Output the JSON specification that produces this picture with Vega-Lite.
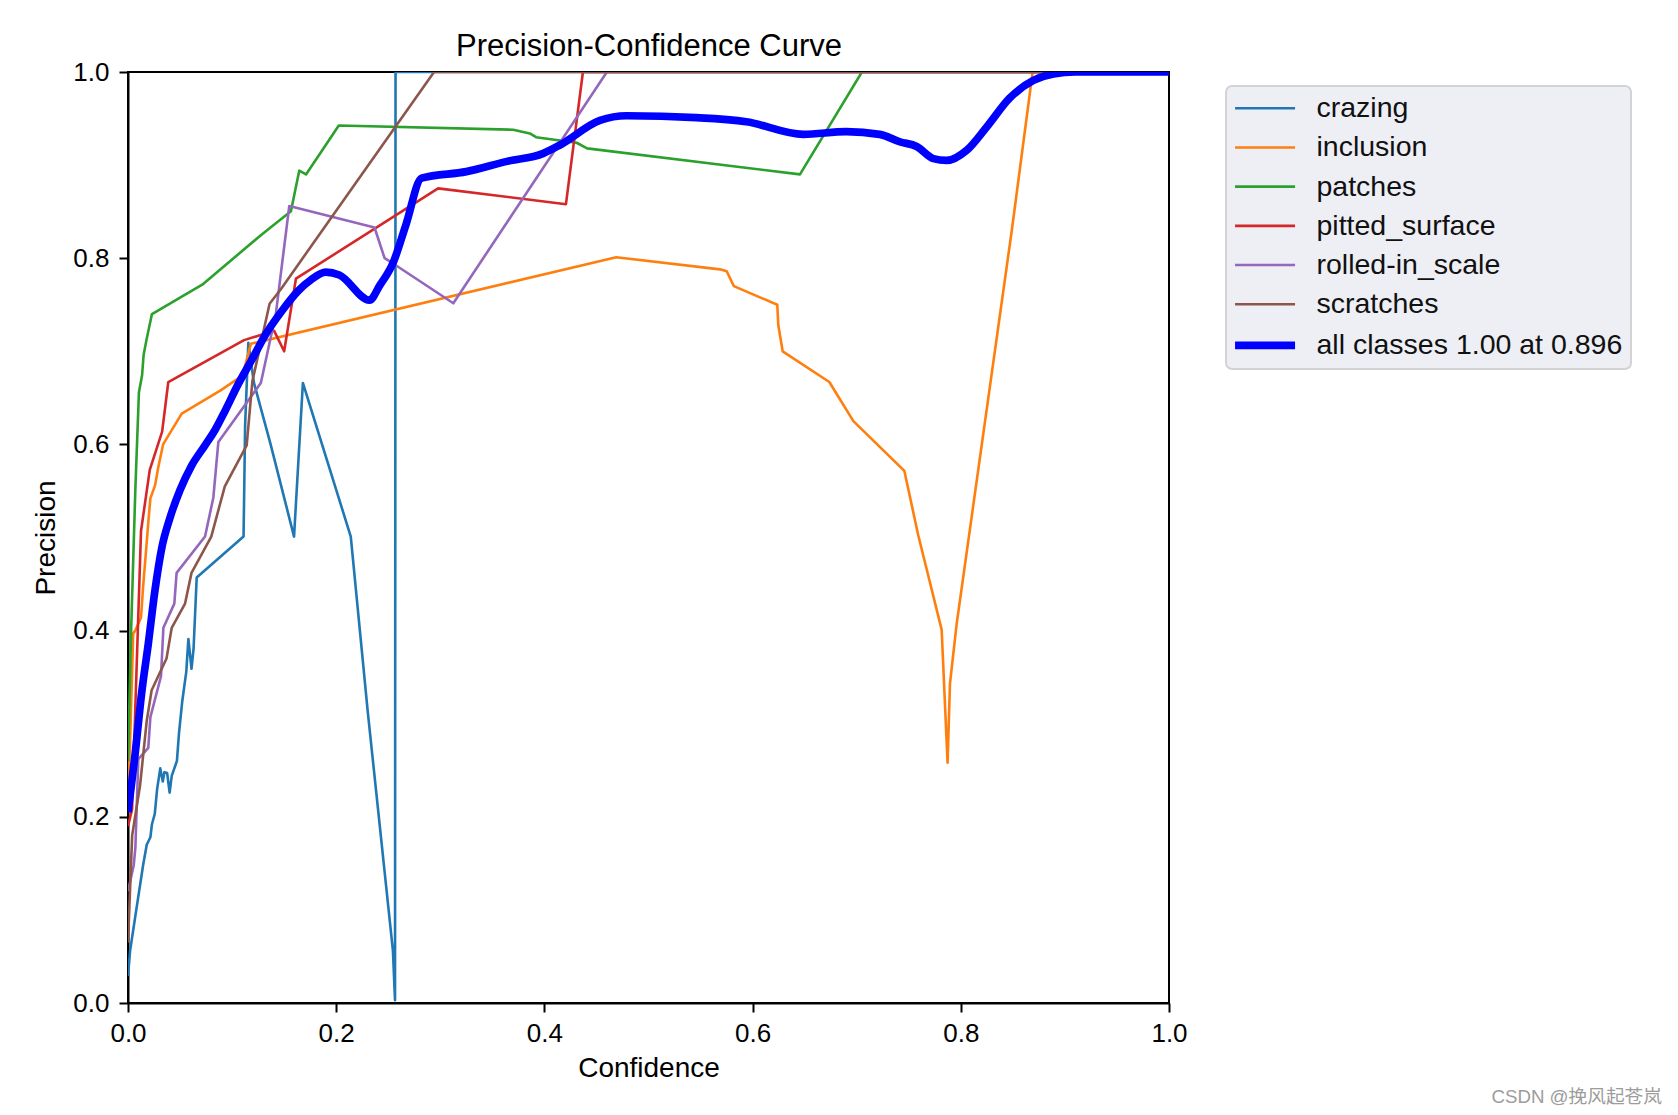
{
  "$schema": "https://vega.github.io/schema/vega-lite/v6.json",
  "description": "Precision-Confidence Curve",
  "width": 1041,
  "height": 931,
  "autosize": {"type": "none"},
  "padding": {"left": 128, "top": 72, "right": 509, "bottom": 112},
  "background": "white",
  "title": {
    "text": "CSDN @挽风起苍岚",
    "orient": "bottom",
    "anchor": "end",
    "frame": "bounds",
    "font": "Liberation Sans, Noto Sans CJK SC",
    "fontSize": 18.7,
    "fontWeight": "normal",
    "color": "#9c9c9c",
    "offset": 6,
    "dx": 30
  },
  "config": {
    "font": "Liberation Sans",
    "view": {"stroke": "black", "strokeWidth": 2},
    "axis": {
      "grid": false,
      "domainColor": "black",
      "domainWidth": 2,
      "tickColor": "black",
      "tickWidth": 2,
      "tickSize": 9,
      "labelFont": "Liberation Sans",
      "labelFontSize": 26,
      "labelColor": "black",
      "labelFlush": false,
      "labelOverlap": false,
      "labelPadding": 8,
      "titleFont": "Liberation Sans",
      "titleFontSize": 28,
      "titleFontWeight": "normal",
      "titleColor": "black"
    },
    "legend": {
      "fillColor": "#eeeef5",
      "strokeColor": "#d3d3d6",
      "strokeWidth": 2,
      "cornerRadius": 6,
      "padding": 8,
      "labelFont": "Liberation Sans",
      "labelFontSize": 28.5,
      "labelColor": "#111111",
      "labelLimit": 500,
      "symbolType": "M-1.65,0H5.85",
      "symbolSize": 256,
      "symbolStrokeWidth": 2.6,
      "labelOffset": 54,
      "rowPadding": 10.2
    }
  },
  "data": {
    "values": [
      {"series": "crazing", "conf": 0.0, "prec": 0.029},
      {"series": "crazing", "conf": 0.002, "prec": 0.056},
      {"series": "crazing", "conf": 0.007, "prec": 0.093},
      {"series": "crazing", "conf": 0.0145, "prec": 0.148},
      {"series": "crazing", "conf": 0.018, "prec": 0.17},
      {"series": "crazing", "conf": 0.0215, "prec": 0.178},
      {"series": "crazing", "conf": 0.023, "prec": 0.192},
      {"series": "crazing", "conf": 0.0257, "prec": 0.203},
      {"series": "crazing", "conf": 0.028, "prec": 0.23},
      {"series": "crazing", "conf": 0.031, "prec": 0.252},
      {"series": "crazing", "conf": 0.0334, "prec": 0.238},
      {"series": "crazing", "conf": 0.035, "prec": 0.248},
      {"series": "crazing", "conf": 0.0376, "prec": 0.247},
      {"series": "crazing", "conf": 0.04, "prec": 0.226},
      {"series": "crazing", "conf": 0.042, "prec": 0.244},
      {"series": "crazing", "conf": 0.047, "prec": 0.26},
      {"series": "crazing", "conf": 0.049, "prec": 0.29},
      {"series": "crazing", "conf": 0.052, "prec": 0.323},
      {"series": "crazing", "conf": 0.056, "prec": 0.356},
      {"series": "crazing", "conf": 0.058, "prec": 0.391},
      {"series": "crazing", "conf": 0.061, "prec": 0.359},
      {"series": "crazing", "conf": 0.063, "prec": 0.381},
      {"series": "crazing", "conf": 0.066, "prec": 0.457},
      {"series": "crazing", "conf": 0.111, "prec": 0.501},
      {"series": "crazing", "conf": 0.1125, "prec": 0.62},
      {"series": "crazing", "conf": 0.1156, "prec": 0.709},
      {"series": "crazing", "conf": 0.121, "prec": 0.666},
      {"series": "crazing", "conf": 0.137, "prec": 0.6},
      {"series": "crazing", "conf": 0.1595, "prec": 0.501},
      {"series": "crazing", "conf": 0.168, "prec": 0.666},
      {"series": "crazing", "conf": 0.214, "prec": 0.501},
      {"series": "crazing", "conf": 0.2304, "prec": 0.312},
      {"series": "crazing", "conf": 0.2545, "prec": 0.056},
      {"series": "crazing", "conf": 0.2565, "prec": 0.003},
      {"series": "crazing", "conf": 0.257, "prec": 1.0},
      {"series": "crazing", "conf": 1.0, "prec": 1.0},

      {"series": "inclusion", "conf": 0.0, "prec": 0.22},
      {"series": "inclusion", "conf": 0.002, "prec": 0.28},
      {"series": "inclusion", "conf": 0.005, "prec": 0.397},
      {"series": "inclusion", "conf": 0.007, "prec": 0.4},
      {"series": "inclusion", "conf": 0.0125, "prec": 0.414},
      {"series": "inclusion", "conf": 0.0145, "prec": 0.447},
      {"series": "inclusion", "conf": 0.0167, "prec": 0.477},
      {"series": "inclusion", "conf": 0.02, "prec": 0.523},
      {"series": "inclusion", "conf": 0.0215, "prec": 0.542},
      {"series": "inclusion", "conf": 0.026, "prec": 0.556},
      {"series": "inclusion", "conf": 0.029, "prec": 0.575},
      {"series": "inclusion", "conf": 0.0337, "prec": 0.6},
      {"series": "inclusion", "conf": 0.0516, "prec": 0.633},
      {"series": "inclusion", "conf": 0.089, "prec": 0.658},
      {"series": "inclusion", "conf": 0.11, "prec": 0.674},
      {"series": "inclusion", "conf": 0.118, "prec": 0.708},
      {"series": "inclusion", "conf": 0.469, "prec": 0.801},
      {"series": "inclusion", "conf": 0.5687, "prec": 0.788},
      {"series": "inclusion", "conf": 0.5751, "prec": 0.786},
      {"series": "inclusion", "conf": 0.582, "prec": 0.77},
      {"series": "inclusion", "conf": 0.6237, "prec": 0.75},
      {"series": "inclusion", "conf": 0.6247, "prec": 0.728},
      {"series": "inclusion", "conf": 0.6289, "prec": 0.7},
      {"series": "inclusion", "conf": 0.6737, "prec": 0.667},
      {"series": "inclusion", "conf": 0.6968, "prec": 0.625},
      {"series": "inclusion", "conf": 0.7458, "prec": 0.5715},
      {"series": "inclusion", "conf": 0.759, "prec": 0.503},
      {"series": "inclusion", "conf": 0.7816, "prec": 0.401},
      {"series": "inclusion", "conf": 0.7873, "prec": 0.258},
      {"series": "inclusion", "conf": 0.7896, "prec": 0.343},
      {"series": "inclusion", "conf": 0.796, "prec": 0.407},
      {"series": "inclusion", "conf": 0.849, "prec": 0.83},
      {"series": "inclusion", "conf": 0.869, "prec": 1.0},
      {"series": "inclusion", "conf": 1.0, "prec": 1.0},

      {"series": "patches", "conf": 0.0, "prec": 0.26},
      {"series": "patches", "conf": 0.003, "prec": 0.4},
      {"series": "patches", "conf": 0.007, "prec": 0.55},
      {"series": "patches", "conf": 0.0105, "prec": 0.656},
      {"series": "patches", "conf": 0.0135, "prec": 0.674},
      {"series": "patches", "conf": 0.015, "prec": 0.696},
      {"series": "patches", "conf": 0.0177, "prec": 0.712},
      {"series": "patches", "conf": 0.023, "prec": 0.74},
      {"series": "patches", "conf": 0.0713, "prec": 0.7715},
      {"series": "patches", "conf": 0.1276, "prec": 0.8247},
      {"series": "patches", "conf": 0.1565, "prec": 0.8504},
      {"series": "patches", "conf": 0.1645, "prec": 0.894},
      {"series": "patches", "conf": 0.171, "prec": 0.89},
      {"series": "patches", "conf": 0.2025, "prec": 0.9425},
      {"series": "patches", "conf": 0.37, "prec": 0.938},
      {"series": "patches", "conf": 0.386, "prec": 0.934},
      {"series": "patches", "conf": 0.392, "prec": 0.93},
      {"series": "patches", "conf": 0.431, "prec": 0.924},
      {"series": "patches", "conf": 0.441, "prec": 0.918},
      {"series": "patches", "conf": 0.6455, "prec": 0.89},
      {"series": "patches", "conf": 0.705, "prec": 1.0},
      {"series": "patches", "conf": 1.0, "prec": 1.0},

      {"series": "pitted_surface", "conf": 0.0, "prec": 0.19},
      {"series": "pitted_surface", "conf": 0.0039, "prec": 0.208},
      {"series": "pitted_surface", "conf": 0.0125, "prec": 0.507},
      {"series": "pitted_surface", "conf": 0.0209, "prec": 0.5726},
      {"series": "pitted_surface", "conf": 0.0328, "prec": 0.6137},
      {"series": "pitted_surface", "conf": 0.0387, "prec": 0.667},
      {"series": "pitted_surface", "conf": 0.1115, "prec": 0.712},
      {"series": "pitted_surface", "conf": 0.1404, "prec": 0.722},
      {"series": "pitted_surface", "conf": 0.15, "prec": 0.7},
      {"series": "pitted_surface", "conf": 0.1613, "prec": 0.778},
      {"series": "pitted_surface", "conf": 0.2979, "prec": 0.875},
      {"series": "pitted_surface", "conf": 0.4207, "prec": 0.858},
      {"series": "pitted_surface", "conf": 0.437, "prec": 1.0},
      {"series": "pitted_surface", "conf": 1.0, "prec": 1.0},

      {"series": "rolled-in_scale", "conf": 0.0, "prec": 0.12},
      {"series": "rolled-in_scale", "conf": 0.0055, "prec": 0.148},
      {"series": "rolled-in_scale", "conf": 0.0071, "prec": 0.167},
      {"series": "rolled-in_scale", "conf": 0.0099, "prec": 0.262},
      {"series": "rolled-in_scale", "conf": 0.0195, "prec": 0.274},
      {"series": "rolled-in_scale", "conf": 0.0215, "prec": 0.307},
      {"series": "rolled-in_scale", "conf": 0.0317, "prec": 0.351},
      {"series": "rolled-in_scale", "conf": 0.034, "prec": 0.403},
      {"series": "rolled-in_scale", "conf": 0.0445, "prec": 0.429},
      {"series": "rolled-in_scale", "conf": 0.0467, "prec": 0.462},
      {"series": "rolled-in_scale", "conf": 0.074, "prec": 0.501},
      {"series": "rolled-in_scale", "conf": 0.082, "prec": 0.543},
      {"series": "rolled-in_scale", "conf": 0.0868, "prec": 0.6026},
      {"series": "rolled-in_scale", "conf": 0.1276, "prec": 0.666},
      {"series": "rolled-in_scale", "conf": 0.142, "prec": 0.74},
      {"series": "rolled-in_scale", "conf": 0.1549, "prec": 0.856},
      {"series": "rolled-in_scale", "conf": 0.2368, "prec": 0.833},
      {"series": "rolled-in_scale", "conf": 0.2465, "prec": 0.8},
      {"series": "rolled-in_scale", "conf": 0.2565, "prec": 0.793},
      {"series": "rolled-in_scale", "conf": 0.3125, "prec": 0.7516},
      {"series": "rolled-in_scale", "conf": 0.46, "prec": 1.0},
      {"series": "rolled-in_scale", "conf": 1.0, "prec": 1.0},

      {"series": "scratches", "conf": 0.0, "prec": 0.065},
      {"series": "scratches", "conf": 0.004, "prec": 0.18},
      {"series": "scratches", "conf": 0.0115, "prec": 0.233},
      {"series": "scratches", "conf": 0.018, "prec": 0.303},
      {"series": "scratches", "conf": 0.0227, "prec": 0.336},
      {"series": "scratches", "conf": 0.037, "prec": 0.37},
      {"series": "scratches", "conf": 0.042, "prec": 0.403},
      {"series": "scratches", "conf": 0.0548, "prec": 0.429},
      {"series": "scratches", "conf": 0.061, "prec": 0.462},
      {"series": "scratches", "conf": 0.08, "prec": 0.501},
      {"series": "scratches", "conf": 0.093, "prec": 0.555},
      {"series": "scratches", "conf": 0.114, "prec": 0.599},
      {"series": "scratches", "conf": 0.1195, "prec": 0.668},
      {"series": "scratches", "conf": 0.136, "prec": 0.751},
      {"series": "scratches", "conf": 0.147, "prec": 0.767},
      {"series": "scratches", "conf": 0.294, "prec": 1.0},
      {"series": "scratches", "conf": 1.0, "prec": 1.0},

      {"series": "all classes 1.00 at 0.896", "conf": 0.0, "prec": 0.205},
      {"series": "all classes 1.00 at 0.896", "conf": 0.0019, "prec": 0.222},
      {"series": "all classes 1.00 at 0.896", "conf": 0.0067, "prec": 0.266},
      {"series": "all classes 1.00 at 0.896", "conf": 0.0131, "prec": 0.333},
      {"series": "all classes 1.00 at 0.896", "conf": 0.0195, "prec": 0.386},
      {"series": "all classes 1.00 at 0.896", "conf": 0.026, "prec": 0.444},
      {"series": "all classes 1.00 at 0.896", "conf": 0.0323, "prec": 0.488},
      {"series": "all classes 1.00 at 0.896", "conf": 0.0403, "prec": 0.521},
      {"series": "all classes 1.00 at 0.896", "conf": 0.05, "prec": 0.551},
      {"series": "all classes 1.00 at 0.896", "conf": 0.061, "prec": 0.577},
      {"series": "all classes 1.00 at 0.896", "conf": 0.074, "prec": 0.599},
      {"series": "all classes 1.00 at 0.896", "conf": 0.0836, "prec": 0.6155},
      {"series": "all classes 1.00 at 0.896", "conf": 0.0932, "prec": 0.636},
      {"series": "all classes 1.00 at 0.896", "conf": 0.106, "prec": 0.665},
      {"series": "all classes 1.00 at 0.896", "conf": 0.119, "prec": 0.691},
      {"series": "all classes 1.00 at 0.896", "conf": 0.1316, "prec": 0.717},
      {"series": "all classes 1.00 at 0.896", "conf": 0.1476, "prec": 0.743},
      {"series": "all classes 1.00 at 0.896", "conf": 0.1636, "prec": 0.765},
      {"series": "all classes 1.00 at 0.896", "conf": 0.176, "prec": 0.777},
      {"series": "all classes 1.00 at 0.896", "conf": 0.19, "prec": 0.785},
      {"series": "all classes 1.00 at 0.896", "conf": 0.203, "prec": 0.782},
      {"series": "all classes 1.00 at 0.896", "conf": 0.232, "prec": 0.755},
      {"series": "all classes 1.00 at 0.896", "conf": 0.242, "prec": 0.771},
      {"series": "all classes 1.00 at 0.896", "conf": 0.255, "prec": 0.796},
      {"series": "all classes 1.00 at 0.896", "conf": 0.267, "prec": 0.836},
      {"series": "all classes 1.00 at 0.896", "conf": 0.282, "prec": 0.886},
      {"series": "all classes 1.00 at 0.896", "conf": 0.325, "prec": 0.893},
      {"series": "all classes 1.00 at 0.896", "conf": 0.364, "prec": 0.904},
      {"series": "all classes 1.00 at 0.896", "conf": 0.399, "prec": 0.9126},
      {"series": "all classes 1.00 at 0.896", "conf": 0.415, "prec": 0.9216},
      {"series": "all classes 1.00 at 0.896", "conf": 0.4534, "prec": 0.948},
      {"series": "all classes 1.00 at 0.896", "conf": 0.479, "prec": 0.953},
      {"series": "all classes 1.00 at 0.896", "conf": 0.546, "prec": 0.951},
      {"series": "all classes 1.00 at 0.896", "conf": 0.594, "prec": 0.9466},
      {"series": "all classes 1.00 at 0.896", "conf": 0.6487, "prec": 0.933},
      {"series": "all classes 1.00 at 0.896", "conf": 0.69, "prec": 0.936},
      {"series": "all classes 1.00 at 0.896", "conf": 0.722, "prec": 0.933},
      {"series": "all classes 1.00 at 0.896", "conf": 0.7416, "prec": 0.925},
      {"series": "all classes 1.00 at 0.896", "conf": 0.7576, "prec": 0.92},
      {"series": "all classes 1.00 at 0.896", "conf": 0.7736, "prec": 0.907},
      {"series": "all classes 1.00 at 0.896", "conf": 0.7864, "prec": 0.905},
      {"series": "all classes 1.00 at 0.896", "conf": 0.8057, "prec": 0.916},
      {"series": "all classes 1.00 at 0.896", "conf": 0.8249, "prec": 0.941},
      {"series": "all classes 1.00 at 0.896", "conf": 0.847, "prec": 0.972},
      {"series": "all classes 1.00 at 0.896", "conf": 0.8697, "prec": 0.991},
      {"series": "all classes 1.00 at 0.896", "conf": 0.889, "prec": 0.998},
      {"series": "all classes 1.00 at 0.896", "conf": 0.91, "prec": 1.0},
      {"series": "all classes 1.00 at 0.896", "conf": 1.0, "prec": 1.0}
    ]
  },
  "encoding": {
    "y": {
      "field": "prec",
      "type": "quantitative",
      "scale": {"domain": [0, 1], "nice": false, "zero": false},
      "axis": {
        "title": "Precision",
        "values": [0, 0.2, 0.4, 0.6, 0.8, 1.0],
        "format": ".1f",
        "labelPadding": 10,
        "titlePadding": 12
      }
    },
    "color": {
      "field": "series",
      "type": "nominal",
      "scale": {
        "domain": ["crazing", "inclusion", "patches", "pitted_surface", "rolled-in_scale", "scratches", "all classes 1.00 at 0.896"],
        "range": ["#1f77b4", "#ff7f0e", "#2ca02c", "#d62728", "#9467bd", "#8c564b", "#0000ff"]
      },
      "legend": {
        "title": null,
        "orient": "none",
        "legendX": 1098,
        "legendY": 14,
        "encode": {
          "symbols": {
            "update": {
              "strokeWidth": {"signal": "datum.value === 'all classes 1.00 at 0.896' ? 7.7 : 2.6"}
            }
          }
        }
      }
    }
  },
  "layer": [
    {
      "transform": [{"filter": "datum.series !== 'all classes 1.00 at 0.896'"}],
      "mark": {"type": "line", "clip": true, "strokeWidth": 2.6, "strokeJoin": "round"},
      "encoding": {
        "x": {
          "field": "conf",
          "type": "quantitative",
          "scale": {"domain": [0, 1], "nice": false, "zero": false},
          "axis": {
            "orient": "bottom",
            "title": "Confidence",
            "values": [0, 0.2, 0.4, 0.6, 0.8, 1.0],
            "format": ".1f",
            "titlePadding": 8
          }
        }
      }
    },
    {
      "transform": [{"filter": "datum.series === 'all classes 1.00 at 0.896'"}],
      "mark": {"type": "line", "clip": true, "strokeWidth": 7.7, "strokeJoin": "round", "interpolate": "monotone"},
      "encoding": {
        "x": {
          "field": "conf",
          "type": "quantitative",
          "scale": {"domain": [0, 1], "nice": false, "zero": false},
          "axis": {
            "orient": "top",
            "title": "Precision-Confidence Curve",
            "titleFontSize": 31,
            "titleBaseline": "alphabetic",
            "titlePadding": 17,
            "labels": false,
            "ticks": false,
            "domain": false
          }
        }
      }
    }
  ],
  "resolve": {"axis": {"x": "independent"}}
}
